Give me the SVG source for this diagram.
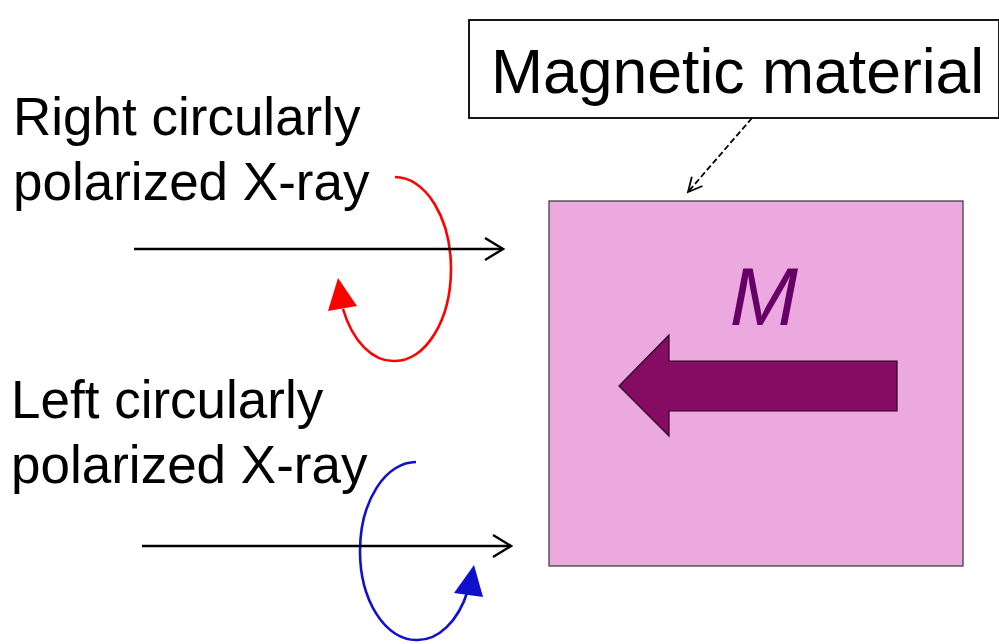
<svg xmlns="http://www.w3.org/2000/svg" width="999" height="644" viewBox="0 0 999 644">
<style>
.lbl{font-family:"Liberation Sans",Arial,sans-serif;fill:#000}
.ray{stroke:#000;stroke-width:2.4;fill:none}
</style>
<defs>
<marker id="open" markerWidth="22" markerHeight="26" refX="20" refY="12" orient="auto" markerUnits="userSpaceOnUse">
<path d="M2,1 L20,12 L2,23" fill="none" stroke="#000" stroke-width="2.4"/>
</marker>
<marker id="dash" markerWidth="20" markerHeight="20" refX="17" refY="9" orient="auto" markerUnits="userSpaceOnUse">
<path d="M3,2 L17,9 L3,16" fill="none" stroke="#000" stroke-width="1.8"/>
</marker>
</defs>
<rect width="999" height="644" fill="#fff"/>
<g id="material">
<rect x="549" y="201" width="414" height="365" fill="#ECA9E0" stroke="#333" stroke-width="1.2"/>
<text x="764" y="325" font-family="Liberation Sans,Arial,sans-serif" font-style="italic" font-size="82" fill="#660066" text-anchor="middle">M</text>
<polygon points="619,386 669,335 669,361 897,361 897,411 669,411 669,436" fill="#860B63" stroke="#2a0020" stroke-width="1.2"/>
</g>
<g id="label-box">
<rect x="469" y="20" width="530" height="98" fill="#fff" stroke="#000" stroke-width="1.8"/>
<text class="lbl" x="491" y="93" font-size="62.5">Magnetic material</text>
</g>
<g id="rcp">
<text class="lbl" x="13" y="135" font-size="53">Right circularly</text>
<text class="lbl" x="13" y="200" font-size="53">polarized X-ray</text>
<path d="M395,177 A56,92 0 0 1 395,361 A56,92 0 0 1 343,309" fill="none" stroke="#FF0000" stroke-width="2.6"/>
<polygon points="338,278 328,311 357,306" fill="#FF0000"/>
</g>
<g id="lcp">
<text class="lbl" x="11" y="418" font-size="53">Left circularly</text>
<text class="lbl" x="11" y="483" font-size="53">polarized X-ray</text>
<path d="M416,462 A56,89 0 0 0 416,640 A56,89 0 0 0 468,590" fill="none" stroke="#1010CC" stroke-width="2.6"/>
<polygon points="474,565 454,593 483,597" fill="#1010CC"/>
</g>
<g id="connectors">
<line class="ray" x1="134" y1="249" x2="503" y2="249" marker-end="url(#open)"/>
<line class="ray" x1="142" y1="546" x2="511" y2="546" marker-end="url(#open)"/>
<line x1="752" y1="118" x2="688" y2="192" stroke="#000" stroke-width="1.8" stroke-dasharray="6,3" marker-end="url(#dash)"/>
</g>
</svg>
